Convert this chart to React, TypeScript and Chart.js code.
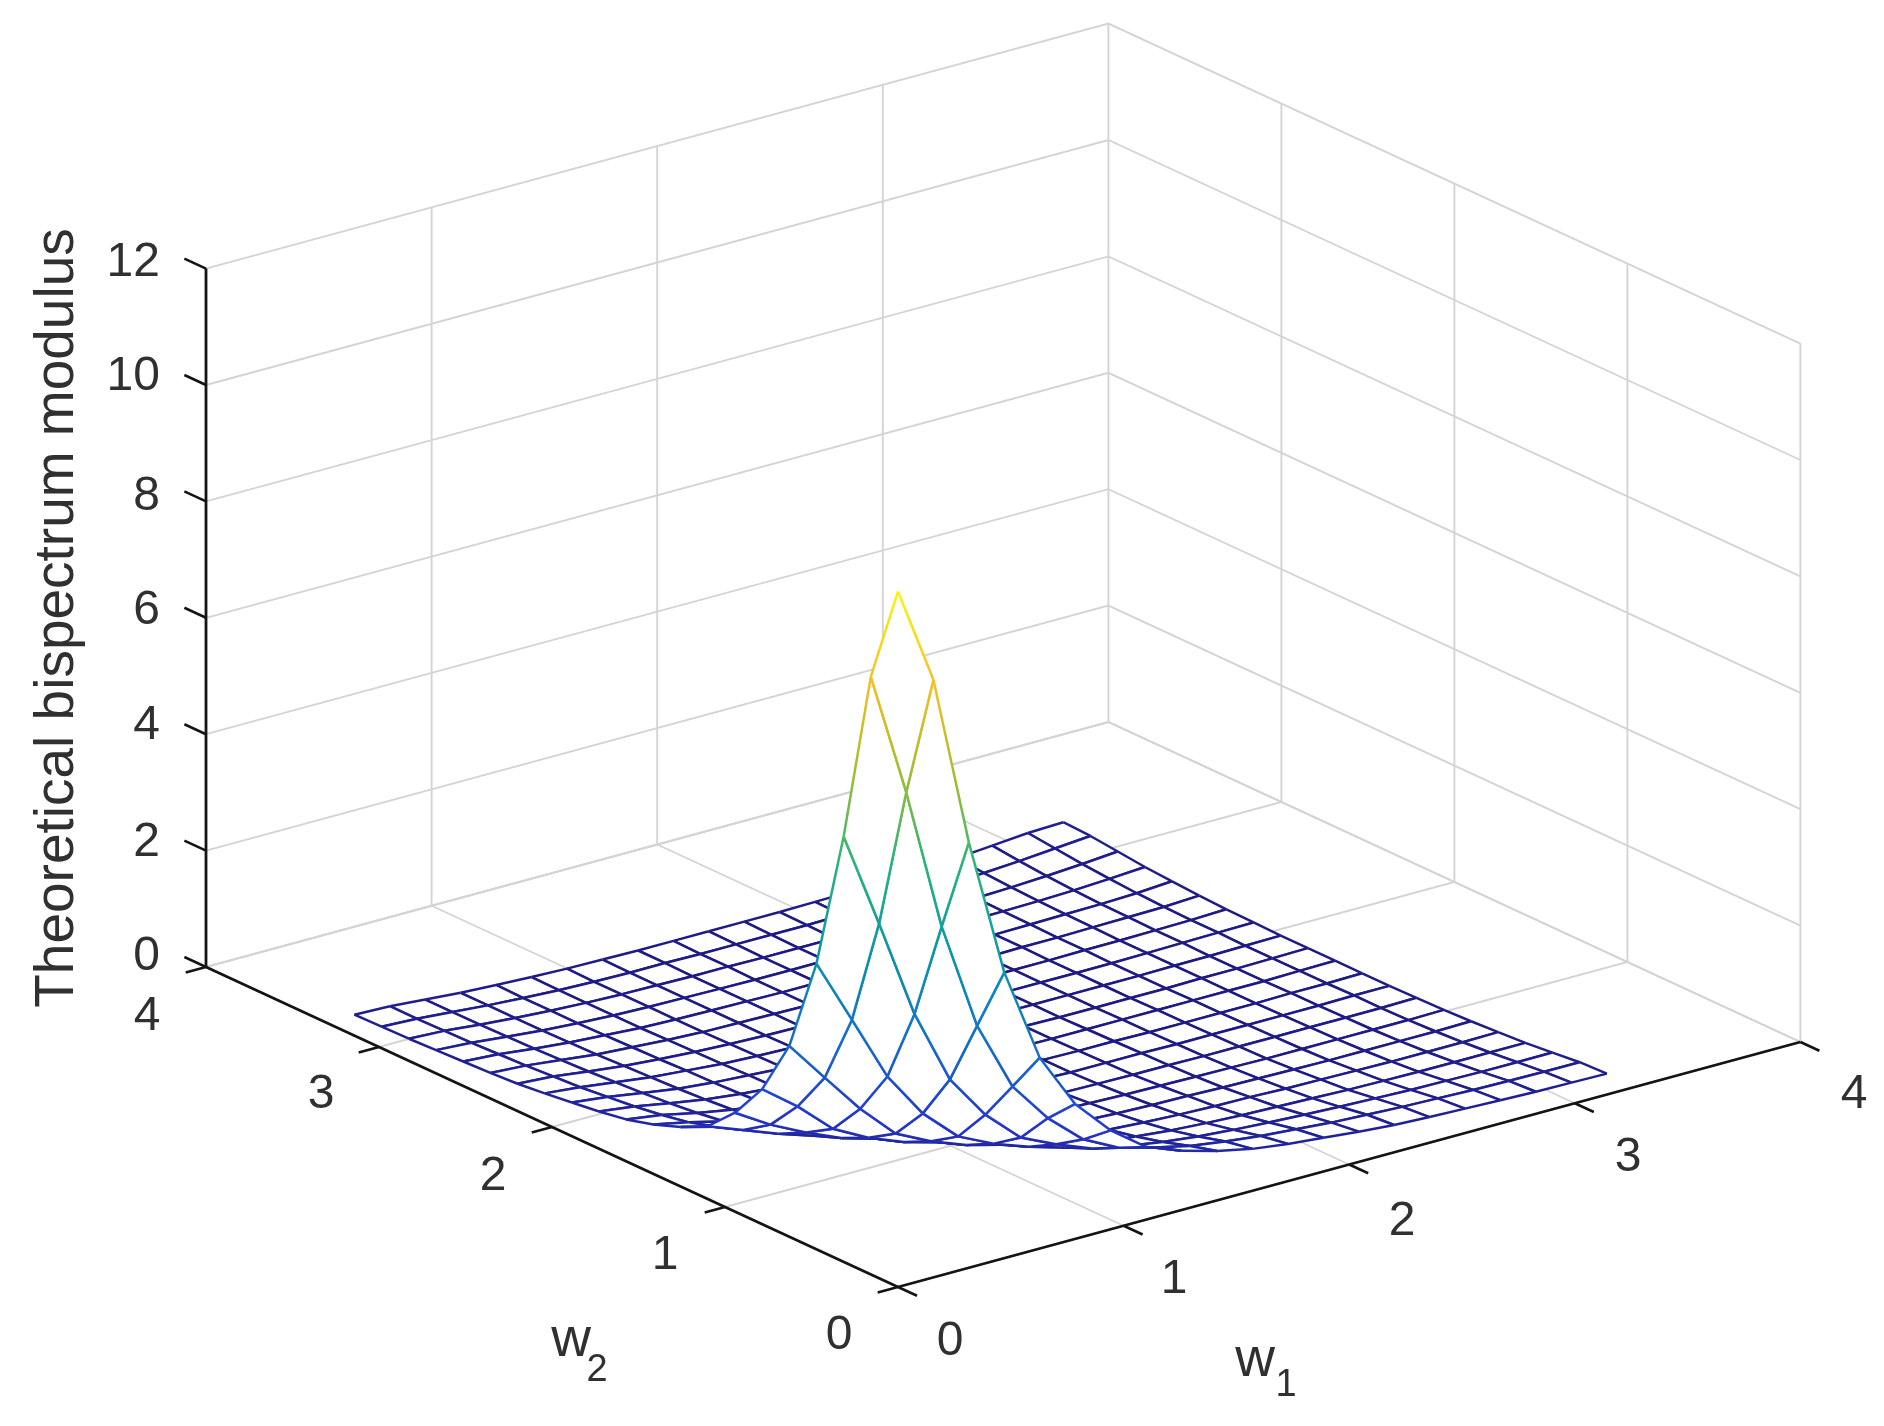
import React, { useEffect, useRef } from "react";
import { Chart, registerables } from "chart.js";

Chart.register(...registerables);

// ---- data ----
const wGrid = [0, 0.157, 0.314, 0.471, 0.628, 0.785, 0.942, 1.1, 1.257, 1.414, 1.571, 1.728, 1.885, 2.042, 2.199, 2.356, 2.513, 2.67, 2.827, 2.985, 3.142];

// Surface height, symmetric in w1 and w2: row i lists columns j = i..20
const zRow0 = [11.95, 10.27, 7.31, 4.91, 3.28, 2.32, 1.7, 1.25, 1.02, 0.85, 0.72, 0.64, 0.58, 0.52, 0.47, 0.44, 0.42, 0.4, 0.38, 0.37, 0.36];
const zRow1 = [8.12, 5.65, 3.78, 2.57, 1.86, 1.33, 1.02, 0.86, 0.72, 0.63, 0.56, 0.51, 0.46, 0.43, 0.4, 0.38, 0.36, 0.35, 0.34, 0.34];
const zRow2 = [3.93, 2.64, 1.87, 1.31, 1.03, 0.79, 0.67, 0.57, 0.5, 0.45, 0.41, 0.38, 0.35, 0.33, 0.31, 0.3, 0.29, 0.29, 0.29];
const zRow3 = [1.84, 1.28, 0.99, 0.77, 0.59, 0.51, 0.45, 0.39, 0.35, 0.32, 0.3, 0.28, 0.26, 0.25, 0.24, 0.24, 0.24, 0.24];
const zRow4 = [0.98, 0.75, 0.59, 0.47, 0.41, 0.35, 0.31, 0.28, 0.26, 0.25, 0.23, 0.22, 0.21, 0.2, 0.2, 0.2, 0.21];
const zRow5 = [0.58, 0.47, 0.37, 0.32, 0.28, 0.25, 0.23, 0.22, 0.2, 0.19, 0.18, 0.17, 0.17, 0.17, 0.17, 0.18];
const zRow6 = [0.38, 0.3, 0.26, 0.23, 0.21, 0.19, 0.18, 0.17, 0.16, 0.15, 0.15, 0.15, 0.15, 0.15, 0.16];
const zRow7 = [0.24, 0.21, 0.19, 0.17, 0.16, 0.15, 0.15, 0.14, 0.14, 0.14, 0.14, 0.14, 0.14, 0.15];
const zRow8 = [0.19, 0.17, 0.16, 0.14, 0.14, 0.14, 0.13, 0.13, 0.13, 0.13, 0.13, 0.14, 0.14];
const zRow9 = [0.16, 0.15, 0.14, 0.13, 0.13, 0.12, 0.12, 0.12, 0.12, 0.13, 0.13, 0.14];
const zRow10 = [0.14, 0.13, 0.12, 0.12, 0.12, 0.12, 0.12, 0.12, 0.12, 0.13, 0.14];
const zRow11 = [0.12, 0.12, 0.11, 0.11, 0.11, 0.11, 0.12, 0.12, 0.13, 0.14];
const zRow12 = [0.11, 0.11, 0.11, 0.11, 0.11, 0.12, 0.12, 0.13, 0.14];
const zRow13 = [0.11, 0.11, 0.11, 0.11, 0.12, 0.13, 0.14, 0.15];
const zRow14 = [0.11, 0.11, 0.12, 0.12, 0.13, 0.14, 0.16];
const zRow15 = [0.12, 0.12, 0.13, 0.14, 0.15, 0.18];
const zRow16 = [0.13, 0.14, 0.15, 0.17, 0.21];
const zRow17 = [0.15, 0.17, 0.2, 0.24];
const zRow18 = [0.2, 0.24, 0.29];
const zRow19 = [0.29, 0.34];
const zRow20 = [0.36];
const zRows = [zRow0, zRow1, zRow2, zRow3, zRow4, zRow5, zRow6, zRow7, zRow8, zRow9, zRow10, zRow11, zRow12, zRow13, zRow14, zRow15, zRow16, zRow17, zRow18, zRow19, zRow20];

const w1Ticks = [0, 1, 2, 3, 4];
const w2Ticks = [0, 1, 2, 3, 4];
const zTicks = [0, 2, 4, 6, 8, 10, 12];
const zAxisTitle = "Theoretical bispectrum modulus";

// colormap knots, from low surface to high
const parula = [
  [30, 24, 125], [36, 56, 205], [20, 110, 205], [10, 150, 170],
  [40, 180, 125], [165, 190, 45], [250, 190, 40], [245, 248, 10],
];

// ---- view (orthographic projection onto the canvas scale) ----
const ORIGIN = [898, 1287];
const EX = [225.6, -61.25];
const EY = [-173, -80];
const EZ = -58.2;
const ZMAX = 11.95;

const project = (w1: number, w2: number, z: number) => ({
  x: ORIGIN[0] + w1 * EX[0] + w2 * EY[0],
  y: ORIGIN[1] + w1 * EX[1] + w2 * EY[1] + z * EZ,
});

const zAt = (i: number, j: number) => (i <= j ? zRows[i][j - i] : zRows[j][i - j]);

function colorAt(z: number) {
  const t = Math.max(0, Math.min(1, z / ZMAX)) * (parula.length - 1);
  const k = Math.min(parula.length - 2, Math.floor(t));
  const f = t - k;
  const c = parula[k].map((v, n) => Math.round(v + (parula[k + 1][n] - v) * f));
  return `rgb(${c[0]},${c[1]},${c[2]})`;
}

const GRID = "#d4d4d4";
const AXIS = "#141414";
const TEXT = "#303030";

function polyline(points: number[][], color: string, width: number) {
  return {
    data: points.map((p) => project(p[0], p[1], p[2])),
    showLine: true,
    pointRadius: 0,
    borderColor: color,
    borderWidth: width,
    fill: false,
  };
}

function buildDatasets() {
  const quads: { i: number; j: number; depth: number }[] = [];
  for (let i = 0; i < wGrid.length - 1; i++) {
    for (let j = 0; j < wGrid.length - 1; j++) {
      quads.push({ i, j, depth: 173 * wGrid[i] + 226 * wGrid[j] });
    }
  }
  quads.sort((a, b) => a.depth - b.depth);

  const sets: any[] = [];
  // first dataset is painted last: nearest cell first in the list
  for (const { i, j } of quads) {
    const idx = [[i, j], [i + 1, j], [i + 1, j + 1], [i, j + 1], [i, j]];
    const zs = idx.map(([a, b]) => zAt(a, b));
    const pts = idx.map(([a, b], n) => project(wGrid[a], wGrid[b], zs[n]));
    sets.push({
      data: pts,
      showLine: true,
      pointRadius: 0,
      borderWidth: 2.5,
      borderColor: colorAt(zs[0]),
      fill: false,
      segment: {
        borderColor: (c: any) => {
          const z0 = zs[c.p0DataIndex];
          const z1 = zs[c.p1DataIndex];
          const g = c.chart.ctx.createLinearGradient(c.p0.x, c.p0.y, c.p1.x, c.p1.y);
          for (let s = 0; s <= 6; s++) g.addColorStop(s / 6, colorAt(z0 + ((z1 - z0) * s) / 6));
          return g;
        },
      },
    });
    sets.push({
      data: pts,
      showLine: true,
      pointRadius: 0,
      borderWidth: 0,
      backgroundColor: "#ffffff",
      fill: "shape",
    });
  }

  const W = w1Ticks[w1Ticks.length - 1];
  const L = w2Ticks[w2Ticks.length - 1];
  const Zt = zTicks[zTicks.length - 1];

  // axes with ticks
  sets.push(polyline([[0, L, 0], [0, 0, 0]], AXIS, 2.8));
  sets.push(polyline([[0, 0, 0], [W, 0, 0]], AXIS, 2.8));
  sets.push(polyline([[0, L, 0], [0, L, Zt]], AXIS, 2.8));
  for (const t of w1Ticks) sets.push(polyline([[t, 0, 0], [t, -0.11, 0]], AXIS, 2.6));
  for (const t of w2Ticks) sets.push(polyline([[0, t, 0], [-0.09, t, 0]], AXIS, 2.6));
  for (const t of zTicks) sets.push(polyline([[0, L, t], [0, L + 0.125, t]], AXIS, 2.6));

  // floor and back walls
  for (const t of w1Ticks.slice(1)) {
    sets.push(polyline([[t, 0, 0], [t, L, 0], [t, L, Zt]], GRID, 1.9));
  }
  for (const t of w2Ticks.slice(0, -1)) {
    sets.push(polyline([[0, t, 0], [W, t, 0], [W, t, Zt]], GRID, 1.9));
  }
  sets.push(polyline([[0, L, 0], [W, L, 0], [W, 0, 0]], GRID, 1.9));
  for (const t of zTicks) {
    sets.push(polyline([[0, L, t], [W, L, t], [W, 0, t]], GRID, 1.9));
  }
  return sets;
}

const labelPlugin = {
  id: "labels3d",
  afterDraw(chart: any) {
    const ctx = chart.ctx as CanvasRenderingContext2D;
    ctx.save();
    ctx.fillStyle = TEXT;
    ctx.textBaseline = "middle";
    const put = (s: string, x: number, y: number, size: number, align: CanvasTextAlign = "center") => {
      ctx.font = `${size}px "Liberation Sans", Arial, sans-serif`;
      ctx.textAlign = align;
      ctx.fillText(s, x, y);
    };
    const zTickPix = [957, 843, 726, 611, 497, 377, 263];
    zTicks.forEach((t, n) => put(String(t), 160, zTickPix[n], 48, "right"));
    const w2Pix = [[839, 1336], [665, 1256], [493, 1177], [321, 1095], [147, 1017]];
    w2Ticks.forEach((t, n) => put(String(t), w2Pix[n][0], w2Pix[n][1], 48));
    const w1Pix = [[950, 1342], [1174, 1280], [1402, 1222], [1628, 1158], [1854, 1095]];
    w1Ticks.forEach((t, n) => put(String(t), w1Pix[n][0], w1Pix[n][1], 48));

    put("w", 1255, 1361, 55);
    put("1", 1286, 1386, 38);
    put("w", 571, 1341, 55);
    put("2", 597, 1371, 38);

    ctx.save();
    ctx.translate(58, 618);
    ctx.rotate(-Math.PI / 2);
    put(zAxisTitle, 0, 0, 55);
    ctx.restore();
    ctx.restore();
  },
};

export default function App() {
  const ref = useRef<HTMLCanvasElement>(null);
  useEffect(() => {
    const chart = new Chart(ref.current as HTMLCanvasElement, {
      type: "scatter",
      data: { datasets: buildDatasets() },
      options: {
        animation: false,
        responsive: false,
        events: [],
        layout: { padding: 0 },
        plugins: { legend: { display: false }, tooltip: { enabled: false }, title: { display: false } },
        scales: {
          x: { type: "linear", display: false, min: 0, max: 1884 },
          y: { type: "linear", display: false, min: 0, max: 1426, reverse: true },
        },
      },
      plugins: [labelPlugin],
    } as any);
    return () => chart.destroy();
  }, []);
  return (
    <div style={{ position: "absolute", left: 0, top: 0, width: 1884, height: 1426, background: "#fff" }}>
      <canvas ref={ref} width={1884} height={1426} style={{ display: "block", filter: "blur(0.6px)" }} />
    </div>
  );
}
